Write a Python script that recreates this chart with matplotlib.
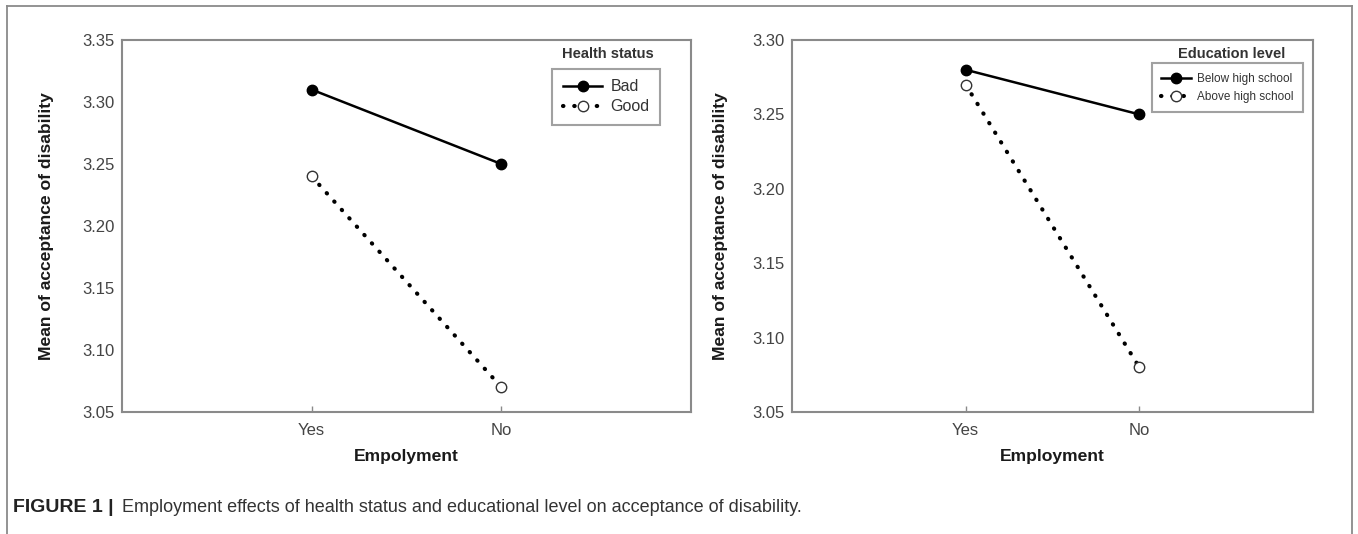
import matplotlib
matplotlib.use("Agg")
import matplotlib.pyplot as plt
from matplotlib.lines import Line2D

# values
employment = ["Yes", "No"]
health_bad = [3.31, 3.25]
health_good = [3.24, 3.07]
edu_below = [3.28, 3.25]
edu_above = [3.27, 3.08]
left_ticks = [3.05, 3.10, 3.15, 3.20, 3.25, 3.30, 3.35]
right_ticks = [3.05, 3.10, 3.15, 3.20, 3.25, 3.30]

plt.rcParams['font.family'] = ['Liberation Sans', 'DejaVu Sans']

W, H = 1358, 534
fig = plt.figure(figsize=(W / 100, H / 100), dpi=100)

spine_col = '#8a8a8a'
tick_col = '#444444'
label_col = '#1a1a1a'


def panel(rect, ylab_x, y1, y2, ticks, lab1, lab2, xlabel, title, leg_box,
          title_pos, leg_size, leg_space, leg_pad):
    ax = fig.add_axes(rect)
    x = [1, 2]
    ax.plot(x, y1, color='black', lw=1.8, marker='o', ms=7.5,
            mfc='black', mec='black', label=lab1)
    ax.plot(x, y2, color='black', lw=3, linestyle=(0, (0.1, 2.6)),
            dash_capstyle='round', marker='o', ms=7.5, mfc='white',
            mec='#333333', mew=1.0, label=lab2)
    ax.set_xlim(0, 3)
    ax.set_ylim(ticks[0], ticks[-1])
    ax.set_xticks(x)
    ax.set_xticklabels(employment)
    ax.set_yticks(ticks)
    ax.set_yticklabels(['%.2f' % t for t in ticks])
    for s in ax.spines.values():
        s.set_color(spine_col)
        s.set_linewidth(1.5)
    ax.tick_params(axis='x', direction='in', length=4, width=1,
                   color=spine_col, labelsize=12, labelcolor=tick_col, pad=8)
    ax.tick_params(axis='y', length=0, labelsize=12, labelcolor=tick_col, pad=5)
    ax.set_xlabel(xlabel, fontsize=12.6, fontweight='bold', color=label_col)
    ax.set_ylabel('Mean of acceptance of disability', fontsize=12.6,
                  fontweight='bold', color=label_col)
    ax.xaxis.set_label_coords(0.5, -0.1)
    ax.yaxis.set_label_coords(ylab_x, 0.5)
    leg = ax.legend(loc='upper left', bbox_to_anchor=leg_box, borderaxespad=0,
                    fontsize=leg_size, frameon=True, fancybox=False,
                    handlelength=2.5, handletextpad=0.5, labelspacing=leg_space,
                    borderpad=leg_pad)
    leg.get_frame().set_edgecolor(spine_col)
    leg.get_frame().set_linewidth(1.5)
    for t in leg.get_texts():
        t.set_color('#333333')
    ax.text(title_pos[0], title_pos[1], title, transform=ax.transAxes,
            ha='center', va='center', fontsize=10.5, fontweight='bold',
            color='#333333')
    return ax


panel([122 / W, 1 - 412 / H, 569 / W, 372 / H], -0.12, health_bad, health_good,
      left_ticks, 'Bad', 'Good', 'Empolyment', 'Health status',
      (0.756, 0.922), (0.854, 0.962), 11.5, 0.3, 0.65)
panel([792 / W, 1 - 412 / H, 521 / W, 372 / H], -0.123, edu_below, edu_above,
      right_ticks, 'Below high school', 'Above high school', 'Employment',
      'Education level', (0.691, 0.937), (0.843, 0.962), 8.5, 0.5, 0.8)

# outer frame (open at the bottom)
fx0, fx1, fy = 7 / W, 1352 / W, 1 - 6 / H
for xs, ys in [([fx0, fx0], [0, fy]), ([fx0, fx1], [fy, fy]), ([fx1, fx1], [fy, 0])]:
    fig.add_artist(Line2D(xs, ys, transform=fig.transFigure, color='#8a8a8a', lw=1.3))

fig.text(13 / W, 1 - 507 / H, 'FIGURE 1 |', fontsize=14, fontweight='bold',
         color='#222222', va='center')
fig.text(122 / W, 1 - 507 / H,
         'Employment effects of health status and educational level on acceptance of disability.',
         fontsize=13, color='#333333', va='center')

fig.savefig('out.png', dpi=100)
